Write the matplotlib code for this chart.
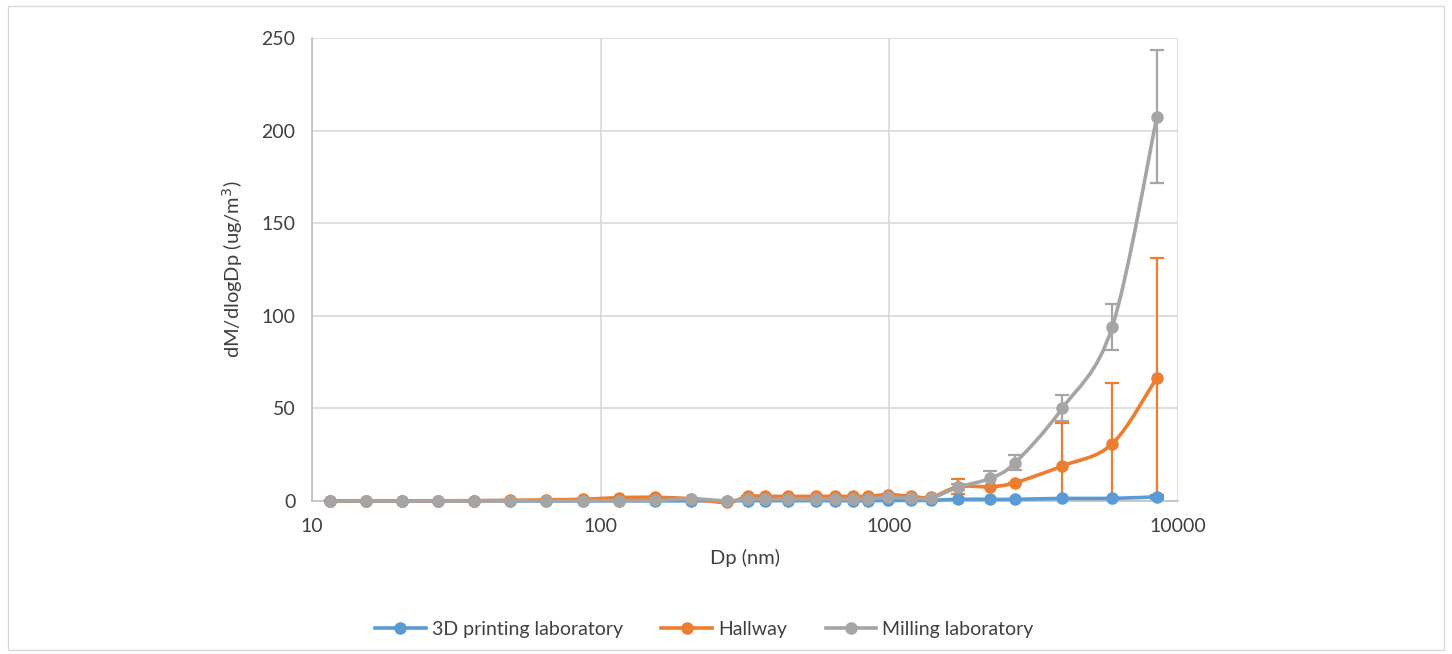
import matplotlib
matplotlib.use('Agg')
import numpy as np
import matplotlib.pyplot as plt
from matplotlib.patches import Rectangle, PathPatch
from matplotlib.path import Path
from matplotlib.lines import Line2D
from matplotlib.ticker import FixedLocator, NullLocator, FuncFormatter


# particle diameters (nm)
dp = [11.5, 15.4, 20.5, 27.4, 36.5, 48.7, 64.9, 86.6, 115.5, 154.0, 205.4, 273.8,
      323, 372, 447, 555, 650, 750, 845, 993, 1192, 1397, 1733, 2234, 2728,
      3970, 5912, 8453]

printing = [0.05, 0.05, 0.05, 0.05, 0.05, 0.05, 0.05, 0.1, 0.1, 0.1, 0.1, 0.1,
            0.2, 0.2, 0.2, 0.2, 0.2, 0.2, 0.2, 0.3, 0.3, 0.4, 0.9, 0.9, 0.9,
            1.4, 1.4, 2.3]
printing_err = [0, 0, 0, 0, 0, 0, 0, 0, 0, 0, 0, 0,
                0, 0, 0, 0, 0, 0, 0, 0, 0, 0, 0.2, 0.2, 0.2,
                0.3, 0.4, 1.0]

hallway = [0.05, 0.05, 0.1, 0.1, 0.2, 0.4, 0.6, 0.9, 1.8, 2.0, 1.2, -0.8,
           2.5, 2.5, 2.5, 2.5, 2.5, 2.5, 2.5, 3.5, 2.5, 2.0, 7.7, 7.7, 9.9,
           18.9, 30.8, 66.6]
hallway_err = [0, 0, 0, 0, 0, 0, 0, 0, 0, 0, 0, 0,
               0, 0, 0, 0, 0, 0, 0, 0, 0, 0, 4.0, 0, 0,
               23.0, 33.0, 64.5]

milling = [0.05, 0.05, 0.05, 0.05, 0.05, 0.05, 0.1, 0.1, 0.2, 0.3, 1.2, 0.1,
           1.0, 1.0, 1.0, 1.0, 1.0, 1.0, 1.2, 2.0, 1.5, 1.6, 7.5, 12.2, 20.7,
           50.0, 93.8, 207.5]
milling_err = [0, 0, 0, 0, 0, 0, 0, 0, 0, 0, 0, 0,
               0, 0, 0, 0, 0, 0, 0, 0, 0, 0, 1.5, 4.0, 4.0,
               7.0, 12.5, 36.0]

labels = ['3D printing laboratory', 'Hallway', 'Milling laboratory']
colors = ['#5B9BD5', '#ED7D31', '#A5A5A5']


def smooth_path(xs, ys):
    # Excel-like smoothed line: Catmull-Rom segments as cubic Beziers (log x)
    lx = np.log10(xs)
    y = np.asarray(ys, dtype=float)
    n = len(lx)
    verts = [(xs[0], ys[0])]
    codes = [Path.MOVETO]
    for i in range(n - 1):
        a = max(i - 1, 0)
        b = min(i + 2, n - 1)
        c1 = (lx[i] + (lx[i + 1] - lx[a]) / 6, y[i] + (y[i + 1] - y[a]) / 6)
        c2 = (lx[i + 1] - (lx[b] - lx[i]) / 6, y[i + 1] - (y[b] - y[i]) / 6)
        verts += [(10 ** c1[0], c1[1]), (10 ** c2[0], c2[1]), (xs[i + 1], ys[i + 1])]
        codes += [Path.CURVE4] * 3
    return Path(verts, codes)


plt.rcParams['font.family'] = ['Lato', 'DejaVu Sans']
txt = '#404040'

fig = plt.figure(figsize=(14.52, 6.54), dpi=100)
fig.patches.append(Rectangle((8 / 1452, 4 / 654), 1436 / 1452, 644 / 654,
                             transform=fig.transFigure, fill=False,
                             edgecolor='#d9d9d9', linewidth=1))
ax = fig.add_axes([312 / 1452, 153 / 654, 866 / 1452, 463 / 654])

series = [(printing, printing_err), (hallway, hallway_err), (milling, milling_err)]
handles = []
for (vals, errs), lab, col in zip(series, labels, colors):
    ax.errorbar(dp, vals, yerr=errs, fmt='none', ecolor=col, elinewidth=1.6,
                capsize=5, capthick=1.6, zorder=2)
    ax.add_patch(PathPatch(smooth_path(dp, vals), fill=False, edgecolor=col,
                           linewidth=2.6, clip_on=False, zorder=3))
    ax.plot(dp, vals, linestyle='none', color=col, marker='o', markersize=8,
            clip_on=False, zorder=3)
    handles.append(Line2D([], [], color=col, linewidth=2.6, marker='o',
                          markersize=8, label=lab))

ax.set_xscale('log')
ax.set_xlim(10, 10000)
ax.set_ylim(0, 250)
ax.xaxis.set_major_locator(FixedLocator([10, 100, 1000, 10000]))
ax.xaxis.set_minor_locator(NullLocator())
ax.xaxis.set_major_formatter(FuncFormatter(lambda v, p: '%d' % v))
ax.set_yticks([0, 50, 100, 150, 200, 250])

ax.grid(True, color='#d9d9d9', linewidth=1.2)
ax.set_axisbelow(True)
for s in ['top', 'right']:
    ax.spines[s].set_visible(False)
for s in ['left', 'bottom']:
    ax.spines[s].set_color('#bfbfbf')
    ax.spines[s].set_linewidth(1.2)
ax.tick_params(length=0, labelsize=14, labelcolor=txt, pad=12)

ax.set_xlabel('Dp (nm)', fontsize=14.5, color=txt, labelpad=10)
ax.set_ylabel('dM/dlogDp (ug/m$^3$)', fontsize=14.5, color=txt, labelpad=12)

fig.legend(handles=handles, loc='center', bbox_to_anchor=(0.485, 0.037), ncol=3,
           frameon=False, fontsize=14, labelcolor=txt, handlelength=2.6,
           columnspacing=2.0, handletextpad=0.3)

fig.savefig('out.png', dpi=100)
